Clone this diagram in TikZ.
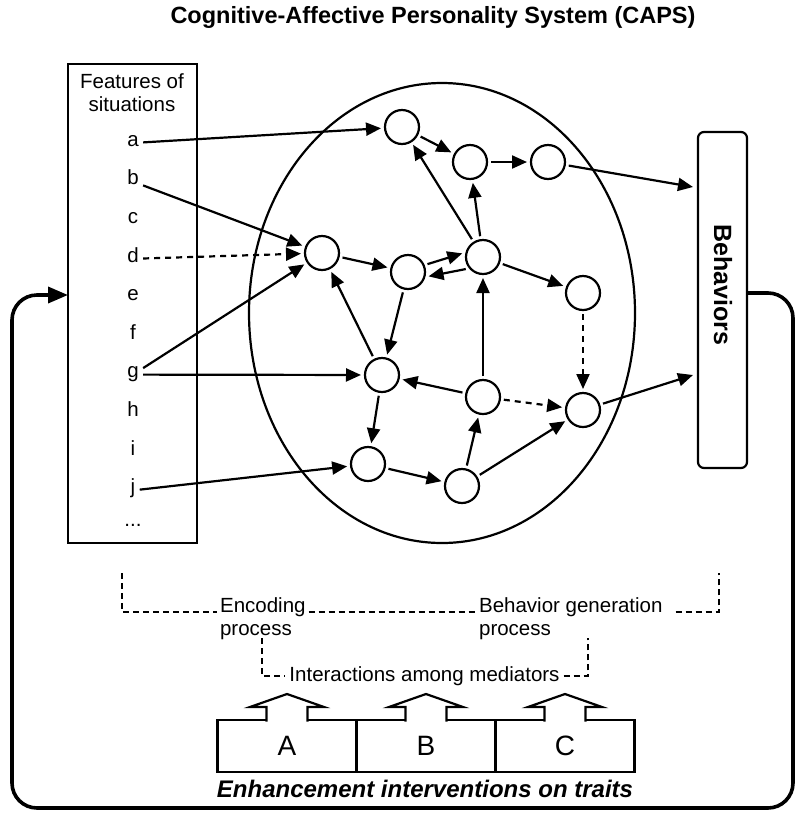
\documentclass[tikz,border=0pt]{standalone}
\usepackage{fontspec}
\setmainfont{Liberation Sans}
\usetikzlibrary{arrows.meta,positioning}
\begin{document}
\begin{tikzpicture}[x=1pt,y=-1pt,line width=2.2pt,>={Triangle[length=15pt,width=13pt]},
        lbl/.style={font=\fontsize{20.5}{23}\selectfont},
        unit/.style={circle,draw,minimum size=34pt,inner sep=0pt,outer sep=4pt},
        dsh/.style={->,dash pattern=on 6pt off 5pt},
        brk/.style={line width=1.8pt,dash pattern=on 6pt off 4pt},
        trait/.style={draw,minimum width=139pt,minimum height=52pt,outer sep=0pt,font=\fontsize{28}{30}\selectfont}]
        \useasboundingbox (0,0) rectangle (801,815);
        \node[font=\bfseries\fontsize{23.5}{26}\selectfont] (title) at (433,17) {Cognitive-Affective Personality System (CAPS)};
        % features of situations
        \node[draw,minimum width=129pt,minimum height=479pt,outer sep=0pt] (feat) at (132.5,303.5) {};
        \node[lbl,align=center] (feathead) at (132,93) {Features of\\situations};
        \foreach \l [count=\i from 0] in {a,...,j} \node[lbl,text height=1.5ex,text depth=.25ex] (f\l) at (133,{143+38.6*\i}) {\l};
        \node[lbl] (fmore) at (133,525) {...};
        % mediating units
        \draw (442,313) ellipse [x radius=193pt,y radius=230pt];
        \foreach \n/\p in {1/{402,127},2/{470,162},3/{548,162},4/{322,253},5/{408,272},6/{483,257},7/{583,293},8/{382,375},9/{483,397},10/{583,410},11/{368,464},12/{462,486}} \node[unit] (m\n) at (\p) {};
        \draw[->] (fa) -- (m1);
        \draw[->] (fb) -- (m4);
        \draw[dsh] (fd) -- (m4);
        \draw[->] (fg) -- (m4);
        \draw[->] (fg) -- (m8);
        \draw[->] (fj) -- (m11);
        \foreach \s/\t in {m1/m2,m2/m3,m4/m5,m5/m8,m8/m4,m8/m11,m6/m1,m6/m2,m6/m7,m9/m6,m9/m8,m11/m12,m12/m9,m12/m10} \draw[->] (\s) -- (\t);
        \foreach \s/\t in {m7/m10,m9/m10} \draw[dsh] (\s) -- (\t);
        \draw[->] (m5.22) -- (m6.170);
        \draw[->] (m6.215) -- (m5.-12);
        % behaviors
        \node[draw,rounded corners=6pt,minimum width=49pt,minimum height=336pt,outer sep=0pt] (beh) at (722.5,300) {};
        \node[rotate=-90,font=\bfseries\fontsize{25}{28}\selectfont] (behlab) at (723,285) {Behaviors};
        \draw[->] (m3) -- ([xshift=-5pt,yshift=-55pt]beh.north west);
        \draw[->] (m10) -- ([xshift=-5pt,yshift=93pt]beh.south west);
        % feedback
        \coordinate (lpbr) at (793,808);
        \coordinate (lptl) at (12,295);
        \draw[line width=3.6pt,rounded corners=25pt,-{Triangle[length=20pt,width=16pt]}] ([yshift=7pt]beh.east) -| (lpbr) -| (lptl) -- ([yshift=8.5pt]feat.west);
        % processes
        \coordinate (lb1) at (122,573); \coordinate (rb1) at (719,573);
        \coordinate (lb2) at (262,638); \coordinate (rb2) at (588,638);
        \node[lbl,align=left,anchor=north west,inner sep=2pt] (enc) at (217,595) {Encoding\\process};
        \node[lbl,align=left,anchor=north west,inner sep=2pt] (bgen) at (476,595) {Behavior generation\\process};
        \node[lbl,inner sep=3pt] (inter) at (424.5,676) {Interactions among mediators};
        \draw[brk] (lb1) |- ([yshift=-17pt]enc.north west);
        \draw[brk] ([yshift=-17pt]enc.north east) -- ([yshift=-17pt]bgen.north west);
        \draw[brk] ([xshift=10pt,yshift=-17pt]bgen.north east) -| (rb1);
        \draw[brk] (lb2) |- (inter.west);
        \draw[brk] (inter.east) -| (rb2);
        % interventions
        \node[trait] (ta) at (287,746) {A};
        \node[trait,right=0pt of ta] (tb) {B};
        \node[trait,right=0pt of tb] (tc) {C};
        \foreach \t in {ta,tb,tc} \filldraw[fill=white,shift={(\t.north)}] (-20.5,1.5) -- (-20.5,-13) -- (-37,-13) -- (0,-26) -- (37,-13) -- (20.5,-13) -- (20.5,1.5);
        \node[font=\bfseries\itshape\fontsize{24}{26}\selectfont] (enh) at (425,789) {Enhancement interventions on traits};
    \end{tikzpicture}
\end{document}
